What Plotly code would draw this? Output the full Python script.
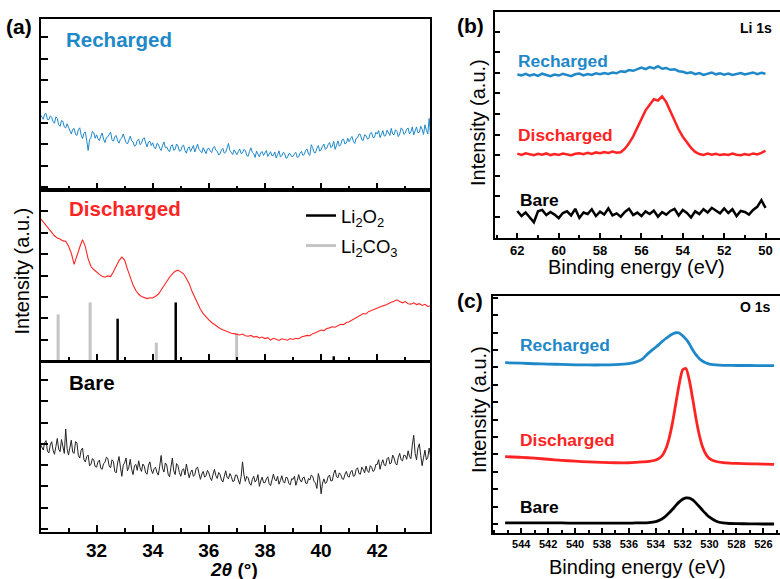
import numpy as np
import plotly.graph_objects as go

W, H = 780, 579
FONT = "Liberation Sans, Arial, sans-serif"
BLUE = "#1e88c8"
RED = "#ff2424"
GRAY = "#c4c4c4"

# ---------------- (a) XRD data ----------------
# dense scans (0.05 deg step) for recharged and bare
xrd_2theta_fine = np.round(np.linspace(30.0, 43.95, 280), 2)
# discharged scan (0.1 deg step)
xrd_2theta = np.round(np.linspace(30.0, 43.9, 140), 2)

xrd_recharged = [
    3.52, 3.38, 3.31, 3.55, 3.58, 3.30, 3.29, 3.47, 3.40, 3.20, 3.12, 3.42, 3.35, 3.05, 2.98, 3.25, 3.21, 2.95, 2.90, 3.10,
    2.95, 2.78, 2.62, 2.84, 2.88, 2.60, 2.55, 2.82, 2.91, 2.58, 2.40, 2.65, 2.72, 2.30, 1.85, 2.35, 2.46, 2.75, 2.69, 2.42,
    2.58, 2.40, 2.31, 2.52, 2.66, 2.38, 2.22, 2.45, 2.49, 2.60, 2.71, 2.35, 2.28, 2.50, 2.55, 2.30, 2.19, 2.38, 2.44, 2.62,
    2.40, 2.22, 2.15, 2.36, 2.52, 2.30, 2.25, 2.05, 2.09, 2.32, 2.38, 2.12, 2.18, 2.40, 2.45, 2.20, 2.02, 2.25, 2.28, 2.08,
    2.21, 2.00, 1.92, 2.18, 2.14, 1.95, 1.85, 2.08, 2.25, 1.98, 2.01, 1.88, 1.79, 2.05, 2.12, 1.86, 1.90, 2.15, 2.06, 1.82,
    1.84, 2.05, 2.10, 1.85, 1.72, 1.95, 2.02, 1.80, 1.91, 2.08, 1.78, 1.96, 2.15, 1.90, 1.83, 1.74, 1.98, 1.86, 1.70, 1.92,
    1.96, 1.82, 1.75, 1.98, 2.04, 1.86, 1.81, 1.64, 1.69, 1.88, 1.95, 1.72, 1.77, 1.96, 2.18, 1.85, 1.72, 1.66, 1.88, 1.78,
    1.66, 1.80, 1.92, 1.70, 1.74, 1.90, 1.85, 1.62, 1.58, 1.80, 1.97, 1.76, 1.70, 1.52, 1.82, 1.68, 1.55, 1.75, 1.80, 1.62,
    1.74, 1.85, 1.57, 1.68, 1.79, 1.60, 1.62, 1.78, 1.50, 1.65, 1.83, 1.55, 1.60, 1.76, 1.72, 1.48, 1.52, 1.70, 1.69, 1.56,
    1.58, 1.70, 1.76, 1.52, 1.55, 1.72, 1.81, 1.62, 1.66, 1.85, 1.92, 1.68, 1.62, 2.12, 1.98, 1.75, 1.74, 1.95, 2.08, 1.82,
    1.88, 2.05, 2.15, 1.90, 1.95, 2.12, 2.22, 1.98, 2.05, 2.28, 1.90, 2.10, 2.30, 2.05, 2.12, 2.35, 2.38, 2.15, 2.20, 2.42,
    2.26, 2.40, 2.50, 2.28, 2.18, 2.42, 2.45, 2.62, 2.60, 2.35, 2.32, 2.58, 2.55, 2.38, 2.41, 2.66, 2.68, 2.45, 2.47, 2.70,
    2.62, 2.78, 2.45, 2.60, 2.78, 2.52, 2.55, 2.80, 2.70, 2.55, 2.88, 2.62, 2.58, 2.82, 2.74, 2.50, 2.62, 2.90, 2.85, 2.60,
    2.66, 2.85, 2.90, 2.62, 2.73, 2.95, 2.58, 2.78, 2.95, 2.68, 2.70, 2.98, 2.84, 2.60, 3.05, 2.80, 2.62, 3.35, 2.55, 2.92,
]

xrd_discharged = [
    6.67, 6.50, 6.34, 6.15, 5.98, 5.86, 5.75, 5.71, 5.62, 5.60,
    5.38, 5.05, 4.52, 4.95, 5.32, 5.68, 5.35, 4.78, 4.42, 4.28,
    4.15, 4.05, 3.96, 3.92, 3.98, 3.95, 4.18, 4.45, 4.70, 4.86,
    4.72, 4.30, 3.88, 3.55, 3.30, 3.12, 3.02, 2.98, 2.92, 2.96,
    2.95, 3.03, 3.12, 3.32, 3.52, 3.75, 3.92, 4.08, 4.20, 4.25,
    4.18, 4.08, 3.86, 3.62, 3.26, 2.98, 2.68, 2.42, 2.22, 2.05,
    1.92, 1.80, 1.70, 1.62, 1.52, 1.46, 1.40, 1.36, 1.30, 1.28,
    1.25, 1.22, 1.26, 1.18, 1.16, 1.20, 1.12, 1.15, 1.08, 1.12,
    1.05, 1.09, 0.98, 1.06, 1.02, 0.96, 1.04, 1.00, 0.97, 1.05,
    1.01, 1.06, 1.04, 1.12, 1.15, 1.20, 1.18, 1.28, 1.32, 1.38,
    1.45, 1.42, 1.52, 1.55, 1.60, 1.58, 1.66, 1.72, 1.70, 1.80,
    1.84, 1.92, 1.98, 2.05, 2.12, 2.22, 2.20, 2.32, 2.36, 2.42,
    2.46, 2.52, 2.58, 2.62, 2.70, 2.75, 2.80, 2.86, 2.78, 2.72,
    2.78, 2.68, 2.66, 2.72, 2.64, 2.68, 2.60, 2.65, 2.55, 2.58,
]

xrd_bare = [
    4.12, 3.95, 3.86, 4.20, 4.30, 3.80, 3.72, 4.10, 4.25, 3.85, 3.66, 4.02, 4.40, 3.90, 3.78, 4.35, 4.05, 3.70, 4.85, 3.92,
    3.62, 4.05, 4.32, 3.75, 3.70, 4.25, 4.20, 3.60, 3.48, 3.85, 3.95, 3.40, 3.30, 3.55, 3.62, 3.12, 3.18, 3.45, 3.40, 3.08,
    3.05, 3.30, 3.38, 3.00, 2.95, 3.22, 3.28, 3.52, 3.46, 3.10, 3.02, 3.40, 3.32, 2.85, 2.78, 3.25, 3.55, 3.05, 2.62, 3.15,
    3.25, 3.48, 2.88, 3.05, 3.42, 2.95, 2.70, 3.12, 3.18, 2.90, 3.35, 3.02, 2.85, 3.20, 3.10, 2.78, 2.72, 3.15, 3.30, 2.92,
    2.75, 2.98, 3.05, 2.80, 2.68, 3.10, 3.60, 3.00, 2.82, 3.25, 3.15, 2.72, 2.60, 3.05, 3.48, 2.88, 2.70, 3.22, 3.12, 2.80,
    2.62, 2.90, 2.98, 2.68, 3.20, 2.85, 2.55, 2.80, 2.92, 2.62, 2.70, 3.00, 3.05, 2.75, 2.48, 2.72, 2.85, 2.58, 2.65, 2.90,
    2.78, 2.55, 2.42, 2.72, 2.95, 2.65, 2.52, 2.80, 2.70, 2.45, 2.35, 2.62, 2.88, 2.58, 2.50, 2.75, 2.62, 2.38, 2.40, 2.68,
    2.68, 2.45, 2.25, 2.60, 3.30, 2.70, 2.38, 2.62, 2.55, 2.30, 2.20, 2.48, 2.62, 2.35, 2.45, 2.70, 2.15, 2.40, 2.58, 2.32,
    2.32, 2.50, 2.60, 2.28, 2.18, 2.45, 2.72, 2.48, 2.40, 2.62, 2.25, 2.42, 2.65, 2.38, 2.30, 2.58, 2.55, 2.28, 2.22, 2.50,
    2.48, 2.62, 2.20, 2.42, 2.70, 2.45, 2.35, 2.55, 2.58, 2.30, 2.28, 2.52, 2.45, 2.68, 2.62, 2.38, 2.30, 2.05, 2.75, 2.50,
    1.80, 2.30, 2.50, 2.28, 2.35, 2.60, 2.68, 2.40, 2.42, 2.75, 2.92, 2.60, 2.55, 2.78, 2.70, 2.50, 2.48, 2.72, 2.85, 2.62,
    2.58, 2.82, 2.90, 2.62, 2.65, 2.95, 3.02, 2.75, 2.72, 3.05, 2.95, 2.78, 3.10, 2.88, 2.80, 3.12, 3.05, 2.85, 2.90, 3.18,
    3.18, 3.40, 2.95, 3.22, 3.40, 3.15, 3.12, 3.45, 3.52, 3.20, 3.25, 3.62, 3.48, 3.22, 3.15, 3.50, 3.70, 3.40, 3.35, 3.62,
    3.60, 3.42, 3.82, 3.55, 3.45, 4.10, 4.55, 3.70, 3.40, 3.95, 4.15, 3.60, 3.12, 3.50, 3.85, 3.40, 3.50, 3.95, 3.62, 3.20,
]

xrd_ticks = [32, 34, 36, 38, 40, 42]
li2o2_pos = [32.75, 34.82, 40.45]
li2o2_h = [1.98, 2.74, 0.22]
li2co3_pos = [30.63, 31.77, 34.13, 36.99]
li2co3_h = [2.18, 2.74, 0.86, 1.30]

# ---------------- (b) Li 1s XPS ----------------
li1s_be = np.round(np.linspace(62.0, 50.0, 61), 2)
li1s_ticks = [62, 60, 58, 56, 54, 52, 50]
li1s_recharged = [
    7.92, 7.88, 7.95, 7.86, 7.93, 7.85, 7.96, 7.90, 7.84, 7.92,
    7.87, 7.95, 7.89, 7.84, 7.93, 7.97, 7.88, 7.94, 7.90, 7.98,
    7.93, 7.99, 7.95, 8.02, 7.98, 8.08, 8.05, 8.14, 8.10, 8.20,
    8.26, 8.18, 8.28, 8.22, 8.32, 8.20, 8.24, 8.15, 8.18, 8.08,
    8.05, 7.98, 8.03, 7.94, 7.99, 7.90, 7.96, 8.02, 7.93, 7.98,
    7.91, 7.97, 7.90, 7.95, 7.99, 7.92, 7.97, 8.02, 7.94, 8.00,
    7.96,
]
li1s_discharged = [
    4.08, 4.02, 4.10, 4.04, 4.00, 4.07, 4.03, 4.09, 4.01, 4.06,
    4.02, 4.08, 4.04, 4.00, 4.07, 4.10, 4.05, 4.12, 4.07, 4.14,
    4.10, 4.16, 4.11, 4.18, 4.13, 4.15, 4.32, 4.58, 4.92, 5.32,
    5.78, 6.18, 6.45, 6.72, 6.66, 6.86, 6.58, 6.12, 5.66, 5.25,
    4.90, 4.60, 4.36, 4.16, 4.06, 4.02, 4.08, 4.03, 4.07, 4.01,
    4.05, 4.02, 4.08, 4.03, 4.00, 4.06, 4.02, 4.09, 4.04, 4.12,
    4.22,
]
li1s_bare = [
    1.30, 1.05, 1.22, 0.98, 0.75, 1.28, 1.35, 1.10, 1.25, 1.12,
    0.95, 1.20, 1.28, 1.08, 1.40, 0.96, 1.22, 1.15, 1.38, 1.05,
    1.26, 1.12, 1.42, 1.08, 1.18, 1.02, 1.25, 1.40, 1.10, 1.22,
    1.05, 1.28, 1.15, 1.32, 1.02, 1.24, 1.12, 1.30, 1.40, 1.08,
    1.35, 1.20, 0.98, 1.28, 1.15, 1.38, 1.22, 1.45, 1.32, 1.18,
    1.42, 1.20, 1.38, 1.05, 1.30, 1.25, 1.12, 1.35, 1.50, 1.82,
    1.45,
]

# ---------------- (c) O 1s XPS ----------------
o1s_ticks = [544, 542, 540, 538, 536, 534, 532, 530, 528, 526]
o1s_be = [545.2, 544.0, 543.0, 542.0, 541.0, 540.0, 539.0, 538.0, 537.0,
          536.0, 535.5, 535.0, 534.5, 534.0, 533.75, 533.5, 533.25, 533.0,
          532.75, 532.5, 532.25, 532.0, 531.75, 531.5, 531.25, 531.0,
          530.75, 530.5, 530.25, 530.0, 529.5, 529.0, 528.5, 528.0, 527.0,
          526.0, 525.2]
o1s_recharged = [9.77, 9.74, 9.71, 9.69, 9.67, 9.65, 9.64, 9.64, 9.66,
                 9.72, 9.80, 9.98, 10.35, 10.66, 10.82, 11.00, 11.16, 11.30,
                 11.42, 11.49, 11.48, 11.32, 11.12, 10.85, 10.50, 10.22,
                 10.00, 9.85, 9.75, 9.69, 9.64, 9.62, 9.62, 9.61, 9.61,
                 9.60, 9.60]
o1s_discharged = [4.37, 4.33, 4.28, 4.22, 4.16, 4.11, 4.07, 4.04, 4.02,
                  4.02, 4.04, 4.07, 4.10, 4.18, 4.27, 4.45, 4.82, 5.44,
                  6.34, 7.46, 8.56, 9.36, 9.44, 8.75, 7.68, 6.53,
                  5.57, 4.89, 4.48, 4.26, 4.09, 4.03, 4.00, 3.98, 3.96,
                  3.94, 3.93]
o1s_bare = [0.57, 0.57, 0.56, 0.56, 0.56, 0.55, 0.55, 0.55, 0.55,
            0.55, 0.56, 0.56, 0.58, 0.64, 0.71, 0.81, 0.96, 1.14,
            1.35, 1.57, 1.77, 1.92, 2.00, 1.99, 1.88, 1.70,
            1.49, 1.27, 1.07, 0.89, 0.66, 0.56, 0.53, 0.52, 0.51,
            0.50, 0.50]


def fx(p):
    return p / W


def fy(p):
    return 1 - p / H


def sticks(pos, h):
    xs, ys = [], []
    for p, v in zip(pos, h):
        xs += [p, p, None]
        ys += [0, v, None]
    return xs, ys


fig = go.Figure()

# (a)
fig.add_trace(go.Scatter(x=xrd_2theta_fine, y=xrd_recharged, mode="lines",
                         line=dict(color=BLUE, width=1), showlegend=False,
                         xaxis="x", yaxis="y"))
sx, sy = sticks(li2o2_pos, li2o2_h)
fig.add_trace(go.Scatter(x=sx, y=sy, mode="lines", name="Li<sub>2</sub>O<sub>2</sub>",
                         legendgroup="g1", line=dict(color="black", width=2.5),
                         xaxis="x2", yaxis="y2"))
sx, sy = sticks(li2co3_pos, li2co3_h)
fig.add_trace(go.Scatter(x=sx, y=sy, mode="lines", name="Li<sub>2</sub>CO<sub>3</sub>",
                         legendgroup="g2", line=dict(color=GRAY, width=3),
                         xaxis="x2", yaxis="y2"))
fig.add_trace(go.Scatter(x=xrd_2theta, y=xrd_discharged, mode="lines",
                         line=dict(color=RED, width=1.1), showlegend=False,
                         xaxis="x2", yaxis="y2"))
fig.add_trace(go.Scatter(x=xrd_2theta_fine, y=xrd_bare, mode="lines",
                         line=dict(color="#222222", width=1), showlegend=False,
                         xaxis="x3", yaxis="y3"))

# (b)
for ys, c in [(li1s_recharged, BLUE), (li1s_discharged, RED), (li1s_bare, "black")]:
    fig.add_trace(go.Scatter(x=li1s_be, y=ys, mode="lines",
                             line=dict(color=c, width=2.5), showlegend=False,
                             xaxis="x4", yaxis="y4"))
# (c)
for ys, c in [(o1s_recharged, BLUE), (o1s_discharged, RED), (o1s_bare, "black")]:
    fig.add_trace(go.Scatter(x=o1s_be, y=ys, mode="lines",
                             line=dict(color=c, width=2.8, shape="spline", smoothing=0.6),
                             showlegend=False, xaxis="x5", yaxis="y5"))

base = dict(showline=True, linecolor="black", linewidth=2, ticks="inside",
            tickcolor="black", tickwidth=1.5, showgrid=False, zeroline=False,
            automargin=False)

xa_dom = [fx(41), fx(430)]
minor_a = dict(dtick=1, tick0=0, ticks="inside", ticklen=4, tickcolor="black", tickwidth=1.5)
minor_bc = dict(dtick=1, tick0=0, ticks="inside", ticklen=3, tickcolor="black", tickwidth=1.5)

layout = dict(
    width=W, height=H, margin=dict(l=0, r=0, t=0, b=0, pad=0, autoexpand=False),
    paper_bgcolor="white", plot_bgcolor="white",
    font=dict(family=FONT, color="black"),
    xaxis=dict(base, domain=xa_dom, anchor="y", range=[30.02, 43.88], tickmode="array",
               tickvals=xrd_ticks, ticklen=7, minor=minor_a, mirror=True,
               showticklabels=False),
    xaxis2=dict(base, domain=xa_dom, anchor="y2", range=[30.02, 43.88], tickmode="array",
                tickvals=xrd_ticks, ticklen=7, minor=minor_a, mirror=True,
                showticklabels=False),
    xaxis3=dict(base, domain=xa_dom, anchor="y3", range=[30.02, 43.88], tickmode="array",
                tickvals=xrd_ticks, ticklen=7, minor=minor_a, mirror=True,
                showticklabels=True,
                tickfont=dict(size=19, weight="bold", family=FONT)),
    yaxis=dict(base, domain=[fy(190), fy(19)], anchor="x", range=[0, 8], tick0=0.14,
               dtick=1, ticklen=7, mirror=True, showticklabels=False),
    yaxis2=dict(base, domain=[fy(361), fy(190)], anchor="x2", range=[0, 8], tick0=0,
                dtick=1, ticklen=7, mirror=True, showticklabels=False),
    yaxis3=dict(base, domain=[fy(532), fy(362)], anchor="x3", range=[0, 8], tick0=0.15,
                dtick=1, ticklen=7, mirror=True, showticklabels=False),
    xaxis4=dict(base, domain=[fx(495), 1], anchor="y4", range=[63.08, 49.3],
                tickmode="array", tickvals=li1s_ticks, ticklen=5, mirror=True,
                minor=minor_bc, tickfont=dict(size=13, weight="bold", family=FONT)),
    yaxis4=dict(base, domain=[fy(237.7), fy(12.3)], anchor="x4", range=[0, 10.94],
                tick0=0, dtick=1, ticklen=5, mirror=False, showticklabels=False),
    xaxis5=dict(base, domain=[fx(493.3), 1], anchor="y5", range=[546.08, 524.76],
                tickmode="array", tickvals=o1s_ticks, ticklen=5, mirror=True,
                minor=minor_bc, tickfont=dict(size=11, weight="bold", family=FONT)),
    yaxis5=dict(base, domain=[fy(532.7), fy(295.7)], anchor="x5", range=[0, 13.62],
                tick0=0.5, dtick=1, ticklen=5, mirror=False, showticklabels=False),
    showlegend=True,
    legend=dict(x=fx(301), y=fy(197), xanchor="left", yanchor="top",
                font=dict(size=18.5, family=FONT, color="black"),
                bgcolor="rgba(0,0,0,0)", borderwidth=0, tracegroupgap=3),
)
fig.update_layout(**layout)


def ann(text, x, y, size, color="black", bold=False, xanchor="center", angle=0):
    fig.add_annotation(text=f"<b>{text}</b>" if bold else text, x=fx(x), y=fy(y),
                       xref="paper", yref="paper", showarrow=False, xanchor=xanchor,
                       yanchor="middle", textangle=angle,
                       font=dict(size=size, color=color, family=FONT))


ann("(a)", 19, 26.5, 21, bold=True)
ann("(b)", 470, 25.5, 21, bold=True)
ann("(c)", 469.5, 300, 21, bold=True)

ann("Recharged", 64, 40, 20.5, BLUE, True, "left")
ann("Discharged", 67, 208, 20.5, RED, True, "left")
ann("Bare", 67, 382, 20.5, "black", True, "left")
ann("Intensity (a.u.)", 21, 271.5, 20, angle=-90)
ann("<i>2θ</i> (°)", 234, 569, 19, bold=True)

ann("Recharged", 516, 61, 17.4, BLUE, True, "left")
ann("Discharged", 516, 135, 17.4, RED, True, "left")
ann("Bare", 518, 200, 17.4, "black", True, "left")
ann("Li 1s", 756, 28, 14, bold=True)
ann("Intensity (a.u.)", 478, 123, 20, angle=-90)
ann("Binding energy (eV)", 636.7, 267, 20)

ann("Recharged", 518, 345, 17.4, BLUE, True, "left")
ann("Discharged", 518, 440, 17.4, RED, True, "left")
ann("Bare", 518, 506.7, 17.4, "black", True, "left")
ann("O 1s", 755, 306.7, 14, bold=True)
ann("Intensity (a.u.)", 479, 410, 20, angle=-90)
ann("Binding energy (eV)", 637, 567.3, 20)

fig.write_html("out.html", config={"displayModeBar": False},
               post_script="document.body.style.margin='0px';")
